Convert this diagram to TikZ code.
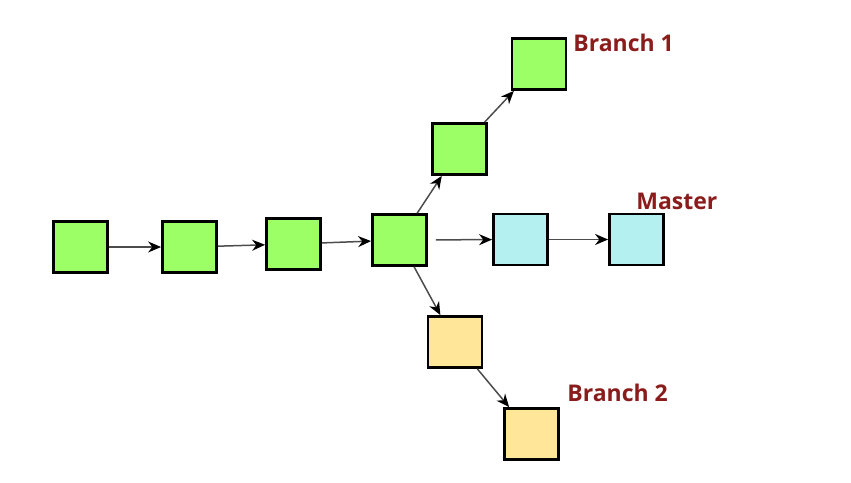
\documentclass[tikz,border=0pt]{standalone}
\usepackage{fontspec}
\setsansfont{Open Sans}
\usetikzlibrary{arrows.meta, positioning}

\definecolor{commitgreen}{HTML}{9CFF66}
\definecolor{commitcyan}{HTML}{B5F0F0}
\definecolor{commityellow}{HTML}{FFE699}
\definecolor{labelred}{HTML}{8A1C1C}

\begin{document}
\begin{tikzpicture}[
        x=1pt, y=-1pt,
        every node/.style={draw=black, line width=2.8pt, minimum width=54pt, minimum height=51pt, inner sep=0pt},
        commit/.style={fill=commitgreen},
        newcommit/.style={fill=commitcyan},
        othercommit/.style={fill=commityellow},
        branchlabel/.style={draw=none, fill=none, text=labelred, font=\sffamily\bfseries\fontsize{23}{26}\selectfont, anchor=west, minimum width=0pt, minimum height=0pt},
        link/.style={-{Stealth[length=13pt,width=11pt,color=black]}, line width=1.5pt, draw=black!70}
    ]
        \useasboundingbox (0,0) rectangle (851,482);

        % Chuỗi commit chính
        \node [commit] (c1) at (80.5,247) {};
        \node [commit] (c2) at (189.5,247) {};
        \node [commit] (c3) at (293.5,244) {};
        \node [commit] (c4) at (399.5,240) {};

        % Nhánh 1
        \node [commit] (b1a) at (459.5,149) {};
        \node [commit] (b1b) at (539,64) {};

        % Master
        \node [newcommit] (m1) at (520.5,239.5) {};
        \node [newcommit] (m2) at (636.5,239.5) {};

        % Nhánh 2
        \node [othercommit] (b2a) at (455,342) {};
        \node [othercommit] (b2b) at (531.5,434) {};

        % Nhãn
        \node [branchlabel] (lb1) at (572,43) {Branch 1};
        \node [branchlabel] (lm) at (635,201) {Master};
        \node [branchlabel] (lb2) at (566,393) {Branch 2};

        % Các liên kết
        \draw[link] (c1) -- (c2);
        \draw[link] (c2) -- (c3);
        \draw[link] (c3) -- (c4);
        \draw[link] (c4) -- (b1a);
        \draw[link] (b1a) -- (b1b);
        \draw[link, shorten <=8pt] (c4) -- (m1);
        \draw[link] (m1) -- (m2);
        \draw[link] (c4) -- (b2a);
        \draw[link] (b2a) -- (b2b);
    \end{tikzpicture}
\end{document}
